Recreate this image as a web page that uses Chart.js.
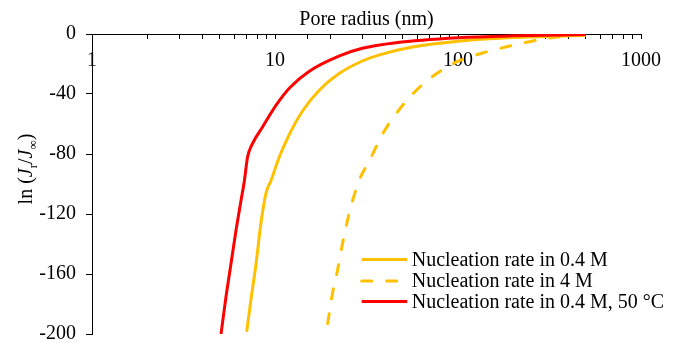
<!DOCTYPE html>
<html><head><meta charset="utf-8">
<script src="https://cdn.jsdelivr.net/npm/chart.js@4.4.1/dist/chart.umd.min.js"></script>
<style>html,body{margin:0;padding:0;background:#fff}#wrap{width:686px;height:343px;position:relative}</style>
</head><body><div id="wrap"><canvas id="c"></canvas></div>
<script>
// ---- data ----
const xTitle = 'Pore radius (nm)';
const seriesLabels = ['Nucleation rate in 0.4 M', 'Nucleation rate in 4 M', 'Nucleation rate in 0.4 M, 50 °C'];
const xTickLabels = ['1', '10', '100', '1000'];
const yTickValues = [0, -40, -80, -120, -160, -200];

const radius04M = [7.0, 7.39, 7.88, 8.38, 8.93, 9.51, 10.55, 12.0, 14.2, 17.5, 22.5, 30, 37.2, 56.5, 100, 200, 500];
const lnJ04M    = [-198.5, -177, -153, -126, -106, -97.7, -82, -66.7, -51, -37.3, -26.2, -18, -13.9, -8.7, -4.8, -2.4, -0.8];

const radius4M  = [19.4, 20.6, 22.0, 23.4, 25.5, 28.9, 32.8, 38.7, 45.8, 56.5, 75.8, 101.6, 136, 207, 315, 500];
const lnJ4M     = [-193, -173, -157, -139.5, -119, -97.3, -84.5, -66.7, -53.3, -40, -26.7, -17.8, -12.7, -7.1, -2.7, -0.2];

const radius04M50C = [5.07, 5.40, 5.75, 6.12, 6.52, 6.80, 7.08, 7.54, 8.55, 10.1, 12.0, 15.4, 22.5, 30, 45.8, 100, 200, 500];
const lnJ04M50C    = [-200, -175, -153, -131, -111, -98, -82, -73, -62, -47.8, -36, -24.8, -14.6, -9.5, -5.8, -2.5, -1.2, -0.4];

// ---- chart ----
const FONT = "'Liberation Serif','Times New Roman',serif";
Chart.defaults.font.family = FONT;
Chart.defaults.font.size = 20;
Chart.defaults.color = '#000';

const toPoints = (xs, ys) => xs.map((x, i) => ({x: x, y: ys[i]}));
const noPad = s => { s.paddingTop = 0; s.paddingBottom = 0; s.paddingLeft = 0; s.paddingRight = 0; };

const legendPlugin = {
  id: 'insideLegend',
  afterDraw(chart) {
    const {ctx, chartArea} = chart;
    const x0 = chartArea.right - 279.3, x1 = x0 + 45.5, tx = x1 + 4.5;
    const rows = [chartArea.bottom - 74.5, chartArea.bottom - 53, chartArea.bottom - 32.5];
    chart.data.datasets.forEach((ds, i) => {
      const y = rows[i];
      ctx.save();
      ctx.strokeStyle = ds.borderColor;
      ctx.lineWidth = ds.borderWidth;
      ctx.lineCap = ds.borderCapStyle || 'butt';
      ctx.setLineDash(ds.borderDash || []);
      ctx.beginPath(); ctx.moveTo(x0, y); ctx.lineTo(x1, y); ctx.stroke();
      ctx.setLineDash([]);
      ctx.fillStyle = '#000';
      ctx.font = '20px ' + FONT;
      ctx.textBaseline = 'middle';
      ctx.textAlign = 'left';
      ctx.fillText(ds.label, tx, y + 1);
      ctx.restore();
    });
  }
};

const yTitlePlugin = {
  id: 'yTitle',
  afterDraw(chart) {
    const {ctx} = chart;
    const parts = [
      {t: 'ln (', s: 'normal', z: 20, d: 0},
      {t: 'J', s: 'italic', z: 20, d: 0},
      {t: 'r', s: 'normal', z: 13, d: 5},
      {t: '/', s: 'normal', z: 20, d: 0},
      {t: 'J', s: 'italic', z: 20, d: 0},
      {t: '\u221E', s: 'normal', z: 13, d: 5},
      {t: ')', s: 'normal', z: 20, d: 0}
    ];
    ctx.save();
    ctx.fillStyle = '#000';
    ctx.textBaseline = 'alphabetic';
    ctx.textAlign = 'left';
    let w = 0;
    parts.forEach(p => { ctx.font = p.s + ' ' + p.z + 'px ' + FONT; p.w = ctx.measureText(p.t).width; w += p.w; });
    ctx.translate(32, 169);
    ctx.rotate(-Math.PI / 2);
    let x = -w / 2;
    parts.forEach(p => {
      ctx.font = p.s + ' ' + p.z + 'px ' + FONT;
      ctx.fillText(p.t, x, p.d);
      x += p.w;
    });
    ctx.restore();
  }
};

new Chart(document.getElementById('c'), {
  type: 'line',
  data: {
    datasets: [
      {label: seriesLabels[0], data: toPoints(radius04M, lnJ04M), borderColor: '#FFC000', borderWidth: 3,
       pointRadius: 0, cubicInterpolationMode: 'monotone', xAxisID: 'x', yAxisID: 'y', order: 1},
      {label: seriesLabels[1], data: toPoints(radius4M, lnJ4M), borderColor: '#FFC000', borderWidth: 3,
       borderDash: [10, 15], borderCapStyle: 'round',
       pointRadius: 0, cubicInterpolationMode: 'monotone', xAxisID: 'x', yAxisID: 'y', order: 1},
      {label: seriesLabels[2], data: toPoints(radius04M50C, lnJ04M50C), borderColor: '#FF0000', borderWidth: 3,
       pointRadius: 0, cubicInterpolationMode: 'monotone', xAxisID: 'x', yAxisID: 'y', order: 0}
    ]
  },
  options: {
    responsive: true,
    maintainAspectRatio: false,
    animation: false,
    layout: {padding: {left: 0, right: 45, top: 0, bottom: 9}, autoPadding: false},
    plugins: {legend: {display: false}, tooltip: {enabled: false}, title: {display: false}},
    scales: {
      x2: {
        axis: 'x', type: 'linear', position: 'top', min: 0, max: 1,
        grid: {display: false}, border: {display: false}, ticks: {display: false},
        title: {display: true, text: xTitle, color: '#000', font: {size: 20}, padding: {top: 8, bottom: 0}},
        afterFit: s => { s.height = 34; noPad(s); }
      },
      x: {
        axis: 'x', type: 'logarithmic', position: {y: 0}, min: 1, max: 1000,
        border: {display: true, color: '#000', width: 1},
        grid: {drawOnChartArea: false, drawTicks: true, tickLength: 4, color: '#000', tickColor: '#000'},
        ticks: {
          autoSkip: false, maxRotation: 0, minRotation: 0, padding: 11, color: '#000', font: {size: 20},
          callback: v => xTickLabels.includes(String(v)) ? String(v) : ''
        },
        afterFit: s => { noPad(s); }
      },
      y: {
        type: 'linear', position: 'left', min: -200, max: 0,
        border: {display: true, color: '#000', width: 1},
        grid: {drawOnChartArea: false, drawTicks: true, tickLength: 6, color: '#000', tickColor: '#000'},
        ticks: {padding: 10, color: '#000', font: {size: 20}, callback: v => String(v)},
        afterBuildTicks: s => { s.ticks = yTickValues.map(v => ({value: v})); },
        afterFit: s => { s.width = 92; noPad(s); }
      }
    }
  },
  plugins: [legendPlugin, yTitlePlugin]
});
</script>
</body></html>
